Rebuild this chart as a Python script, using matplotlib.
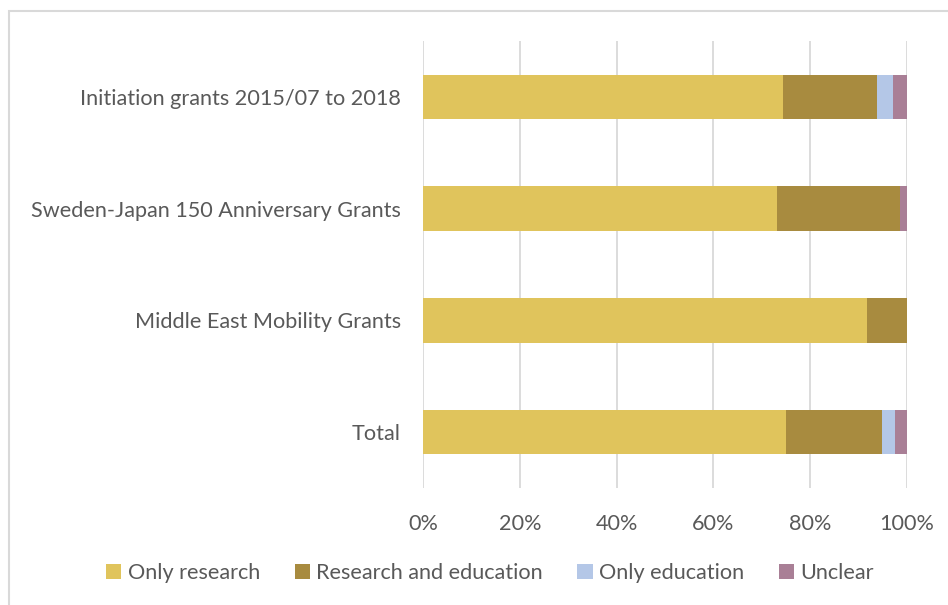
import matplotlib.pyplot as plt
from matplotlib.patches import Rectangle
from matplotlib.ticker import PercentFormatter

categories = ["Initiation grants 2015/07 to 2018",
              "Sweden-Japan 150 Anniversary Grants",
              "Middle East Mobility Grants",
              "Total"]
only_research = [74.4, 73.2, 91.7, 75.0]
research_and_education = [19.5, 25.3, 8.3, 19.9]
only_education = [3.3, 0.0, 0.0, 2.7]
unclear = [2.8, 1.5, 0.0, 2.4]

series = [
    ("Only research", only_research, "#E0C45C"),
    ("Research and education", research_and_education, "#A88B3F"),
    ("Only education", only_education, "#B4C7E7"),
    ("Unclear", unclear, "#A97F96"),
]

plt.rcParams["font.family"] = ["Lato", "DejaVu Sans"]
text_color = "#595959"
fsize = 15.6

fig = plt.figure(figsize=(9.48, 6.05), dpi=100)
ax = fig.add_axes([423 / 948, 1 - 488 / 605, 484 / 948, 447 / 605])

# outer chart border
fig.patches.append(Rectangle((9 / 948, -0.1), 1.2, 1 - 11 / 605 + 0.1,
                             transform=fig.transFigure, fill=False,
                             edgecolor="#D9D9D9", linewidth=1.5))

ypos = list(range(len(categories)))
left = [0.0] * len(categories)
for label, values, color in series:
    ax.barh(ypos, values, left=left, height=0.4, color=color, label=label, zorder=3)
    left = [a + b for a, b in zip(left, values)]

ax.set_xlim(0, 100)
ax.set_ylim(len(categories) - 0.5, -0.5)
ax.set_xticks([0, 20, 40, 60, 80, 100])
ax.xaxis.set_major_formatter(PercentFormatter(decimals=0))
ax.set_yticks(ypos)
ax.set_yticklabels(categories)
ax.grid(axis="x", color="#D9D9D9", linewidth=1.3, zorder=0)
for s in ax.spines.values():
    s.set_visible(False)
ax.tick_params(axis="both", length=0, labelsize=fsize, colors=text_color)
ax.tick_params(axis="x", pad=19)
ax.tick_params(axis="y", pad=16)

leg = ax.legend(loc="center", ncol=4, frameon=False,
                fontsize=fsize, handlelength=0.7, handleheight=0.7,
                handletextpad=0.3, columnspacing=1.6)
leg.set_bbox_to_anchor((490 / 948, 1 - 573 / 605), transform=fig.transFigure)
for t in leg.get_texts():
    t.set_color(text_color)

fig.savefig("out.png", dpi=100)
